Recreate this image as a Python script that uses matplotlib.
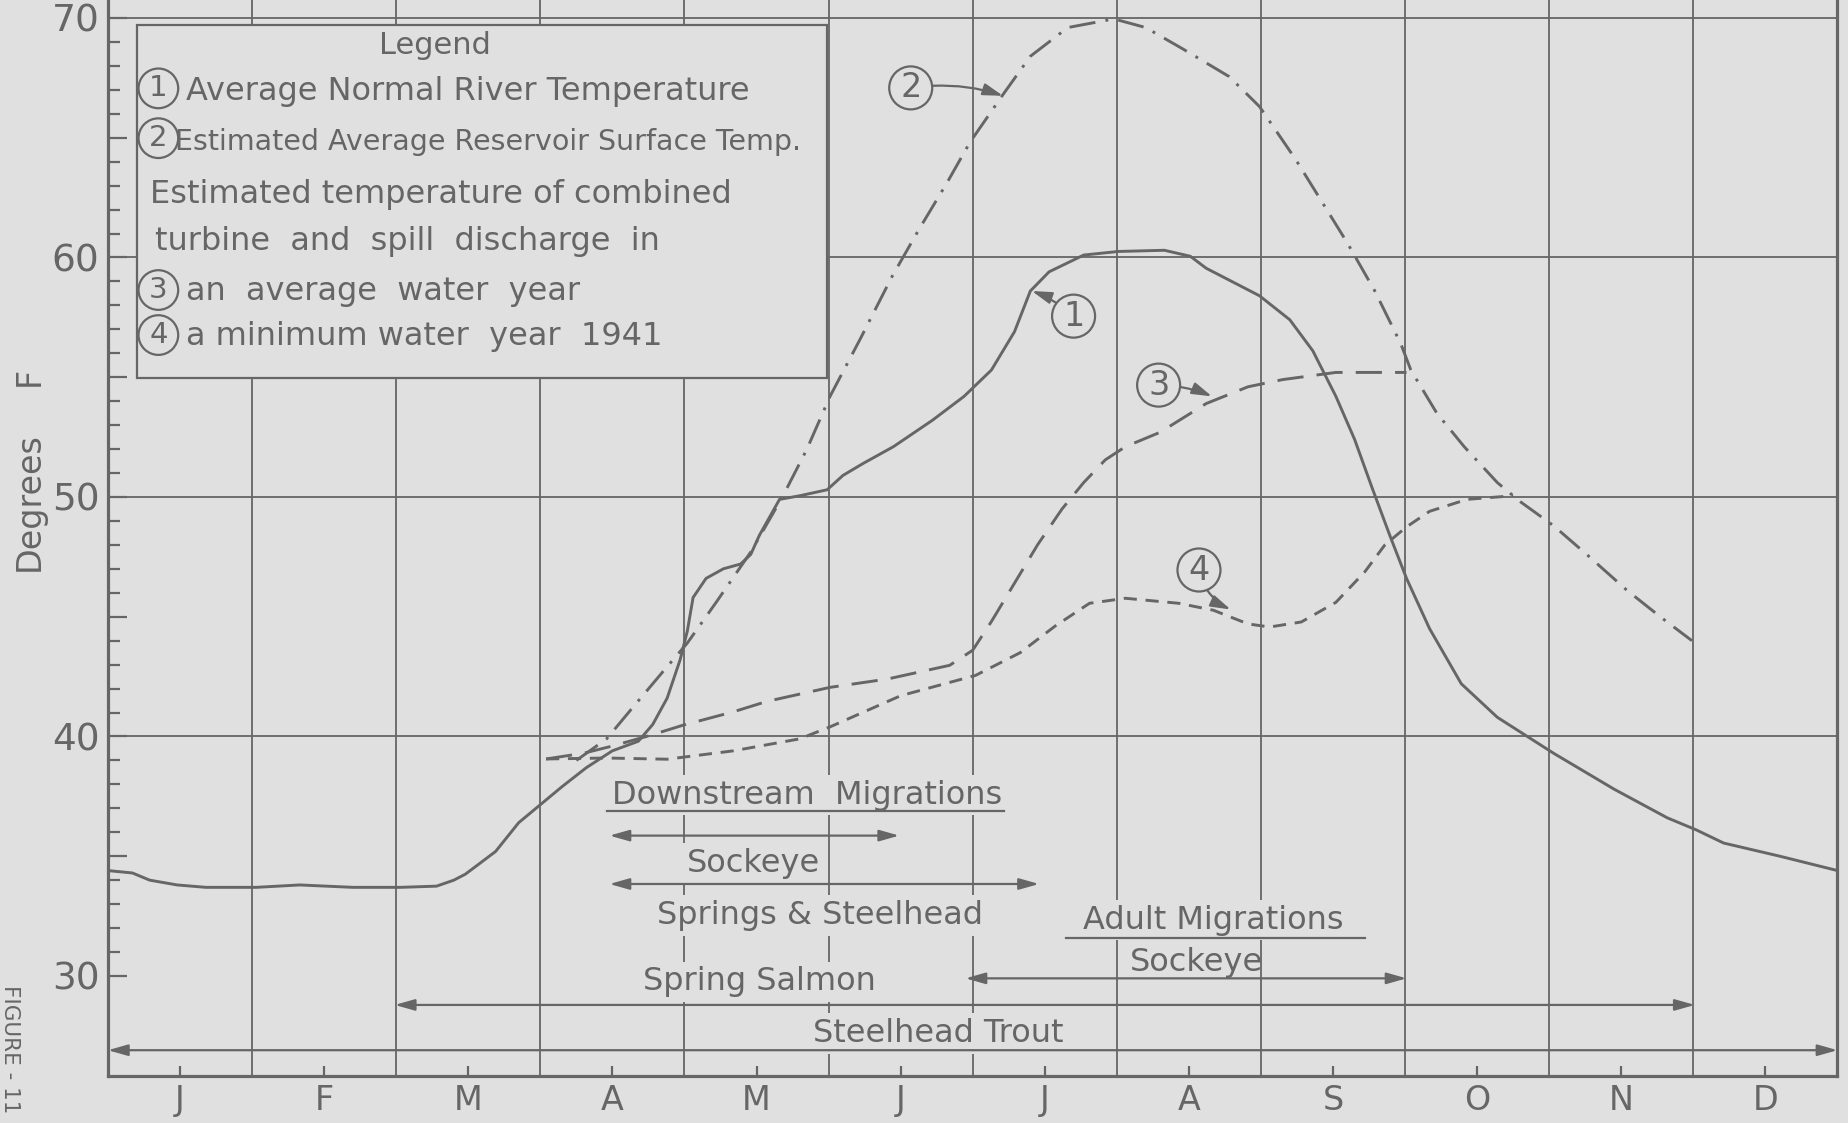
import numpy as np
import matplotlib.pyplot as plt
from matplotlib.patches import Rectangle

plt.rcParams['font.family'] = ['DejaVu Sans']

bg = '#e0e0e0'
ink = '#666666'

months = ['J', 'F', 'M', 'A', 'M', 'J', 'J', 'A', 'S', 'O', 'N', 'D']

# x is months from Jan 1, y is degrees F
# (1) average normal river temperature
river_x = [0.0, 0.17, 0.29, 0.48, 0.68, 1.03, 1.33, 1.70, 2.03, 2.28, 2.40, 2.48, 2.58, 2.69,
           2.85, 3.01, 3.15, 3.32, 3.50, 3.68, 3.78, 3.88, 3.97, 4.02, 4.06, 4.15, 4.27, 4.39,
           4.46, 4.52, 4.66, 4.80, 4.99, 5.10, 5.24, 5.45, 5.72, 5.94, 6.13, 6.29, 6.40, 6.53,
           6.77, 7.01, 7.33, 7.51, 7.62, 7.99, 8.20, 8.36, 8.52, 8.65, 8.77, 8.90, 9.01, 9.17,
           9.39, 9.64, 10.03, 10.45, 10.82, 11.02, 11.21, 11.60, 12.0]
river_y = [34.4, 34.3, 34.0, 33.8, 33.7, 33.7, 33.8, 33.7, 33.7, 33.75, 34.0, 34.25, 34.7, 35.2,
           36.4, 37.2, 37.9, 38.7, 39.4, 39.8, 40.5, 41.6, 43.2, 44.4, 45.8, 46.6, 47.0, 47.2,
           47.6, 48.4, 49.9, 50.05, 50.3, 50.9, 51.4, 52.1, 53.2, 54.2, 55.3, 56.9, 58.6, 59.4,
           60.1, 60.25, 60.3, 60.05, 59.55, 58.4, 57.4, 56.1, 54.2, 52.4, 50.4, 48.3, 46.6, 44.5,
           42.2, 40.8, 39.3, 37.8, 36.6, 36.1, 35.55, 35.0, 34.4]

# (2) estimated average reservoir surface temp
res_x = [3.25, 3.46, 3.64, 3.85, 4.02, 4.22, 4.46, 4.68, 4.85, 5.01, 5.22, 5.44, 5.63, 5.82,
         5.98, 6.21, 6.40, 6.66, 6.98, 7.20, 7.46, 7.78, 7.99, 8.24, 8.41, 8.60, 8.79, 8.97,
         9.04, 9.22, 9.41, 9.64, 9.80, 10.03, 10.26, 10.54, 10.77, 10.99]
res_y = [39.0, 39.9, 41.2, 42.7, 43.9, 45.6, 47.7, 50.0, 52.0, 54.2, 56.6, 59.2, 61.2, 63.1,
         64.8, 66.8, 68.4, 69.6, 69.96, 69.6, 68.7, 67.55, 66.3, 64.1, 62.45, 60.6, 58.6, 56.4,
         55.3, 53.5, 52.1, 50.6, 49.8, 48.8, 47.6, 46.1, 45.0, 44.0]

# (3) average water year
avg_x = [3.04, 3.30, 3.50, 3.76, 3.99, 4.34, 4.57, 5.01, 5.41, 5.84, 6.0, 6.13, 6.28, 6.45,
         6.62, 6.77, 6.92, 7.06, 7.30, 7.62, 7.91, 8.15, 8.52, 9.01]
avg_y = [39.06, 39.3, 39.6, 40.04, 40.47, 41.03, 41.46, 42.05, 42.4, 42.97, 43.6, 44.8, 46.3,
         48.0, 49.5, 50.6, 51.55, 52.1, 52.7, 53.9, 54.6, 54.9, 55.2, 55.2]

# (4) minimum water year 1941
min_x = [3.04, 3.46, 3.88, 4.34, 4.80, 5.01, 5.50, 6.02, 6.33, 6.57, 6.81, 7.06, 7.43, 7.67,
         7.91, 8.06, 8.28, 8.52, 8.72, 8.86, 9.01, 9.17, 9.43, 9.75]
min_y = [39.06, 39.1, 39.05, 39.4, 39.9, 40.4, 41.7, 42.55, 43.5, 44.6, 45.56, 45.77, 45.56,
         45.27, 44.7, 44.57, 44.78, 45.6, 46.87, 48.0, 48.75, 49.4, 49.9, 50.05]

# migration periods (months from Jan 1)
sockeye_down = [3.48, 5.49]
springs_down = [3.48, 6.46]
adult_sockeye = [5.95, 9.01]
steelhead_trout = [1.99, 11.01]
whole_year = [0.0, 12.0]

fig = plt.figure(figsize=(18.48, 11.23), dpi=100, facecolor=bg)
ax = fig.add_axes([0.0584, 0.0419, 0.9359, 0.9581])
ax.set_facecolor(bg)
ax.set_xlim(0, 12)
ax.set_ylim(25.825, 70.75)

for s in ['left', 'bottom', 'right']:
    ax.spines[s].set_color(ink)
    ax.spines[s].set_linewidth(2.3)
ax.spines['top'].set_visible(False)

# ticks
ax.set_yticks(range(30, 71, 5))
ax.set_yticklabels(['30', '', '40', '', '50', '', '60', '', '70'])
ax.set_yticks([v for v in range(31, 70) if v % 5], minor=True)
ax.tick_params(axis='y', which='major', direction='in', length=14, width=1.6,
               color=ink, labelcolor=ink, labelsize=27, pad=6)
ax.tick_params(axis='y', which='minor', direction='in', length=8.5, width=1.6, color=ink)
ax.set_xticks(np.arange(12) + 0.5)
ax.set_xticklabels(months)
ax.tick_params(axis='x', direction='in', length=7, width=1.6, color=ink,
               labelcolor=ink, labelsize=24, pad=6)

# grid
for k in range(1, 12):
    ax.axvline(k, color=ink, lw=1.3, zorder=1)
for v in [40, 50, 60, 70]:
    ax.axhline(v, color=ink, lw=1.3, zorder=1)

# curves
ax.plot(river_x, river_y, color=ink, lw=2.1, zorder=2)
ax.plot(res_x, res_y, color=ink, lw=2.1, dashes=(9, 3.5, 1, 3.5), zorder=2)
ax.plot(avg_x, avg_y, color=ink, lw=2.1, dashes=(9, 4.5), zorder=2)
ax.plot(min_x, min_y, color=ink, lw=2.1, dashes=(4.5, 3), zorder=2)

# legend box
ax.add_patch(Rectangle((0.2, 54.97), 4.79, 14.74, fc=bg, ec=ink, lw=1.6, zorder=3))
tk = dict(color=ink, zorder=4)
circ = dict(boxstyle='circle,pad=0.2', fc='none', ec=ink, lw=1.6)
ax.text(2.27, 68.48, 'Legend', ha='center', va='baseline', fontsize=22, **tk)
for num, yc in [('1', 67.06), ('2', 64.98), ('3', 58.64), ('4', 56.76)]:
    ax.text(0.35, yc, num, ha='center', va='center', fontsize=21, bbox=circ, **tk)
ax.text(0.545, 66.58, 'Average Normal River Temperature', va='baseline', fontsize=23, **tk)
ax.text(0.465, 64.49, 'Estimated Average Reservoir Surface Temp.', va='baseline',
        fontsize=20.5, **tk)
ax.text(0.29, 62.26, 'Estimated temperature of combined', va='baseline', fontsize=23, **tk)
ax.text(0.326, 60.31, 'turbine  and  spill  discharge  in', va='baseline', fontsize=23, **tk)
ax.text(0.545, 58.23, 'an  average  water  year', va='baseline', fontsize=23, **tk)
ax.text(0.545, 56.35, 'a minimum water  year  1941', va='baseline', fontsize=23, **tk)

# callouts on curves
pcirc = dict(boxstyle='circle,pad=0.15', fc=bg, ec=ink, lw=1.6)
callouts = [('1', (6.41, 58.6), (6.70, 57.55), 0.1),
            ('2', (6.21, 66.75), (5.57, 67.08), -0.12),
            ('3', (7.66, 54.2), (7.29, 54.67), -0.1),
            ('4', (7.79, 45.3), (7.57, 46.95), 0.25)]
for num, tip, pos, rad in callouts:
    ax.annotate(num, xy=tip, xytext=pos, ha='center', va='center', fontsize=24,
                color=ink, bbox=pcirc, zorder=4,
                arrowprops=dict(arrowstyle='-|>,head_length=0.6,head_width=0.18',
                                color=ink, lw=1.6, shrinkA=0, shrinkB=0,
                                mutation_scale=20,
                                connectionstyle='arc3,rad=%s' % rad))

# migration annotations
gap = dict(boxstyle='square,pad=0.15', fc=bg, ec='none')
bt = dict(ha='center', va='baseline', fontsize=23, color=ink, zorder=3)
ax.text(4.85, 37.2, 'Downstream  Migrations', bbox=gap, **bt)
ax.plot([3.46, 6.22], [36.9, 36.9], color=ink, lw=1.6, zorder=4)
ax.text(4.48, 34.34, 'Sockeye', bbox=gap, **bt)
ax.text(4.94, 32.16, 'Springs & Steelhead', bbox=gap, **bt)
ax.text(4.52, 29.4, 'Spring Salmon', bbox=gap, **bt)
ax.text(7.67, 31.98, 'Adult Migrations', bbox=gap, **bt)
ax.plot([6.65, 8.72], [31.59, 31.59], color=ink, lw=1.6, zorder=4)
ax.text(7.55, 30.2, 'Sockeye', **bt)
ax.text(5.76, 27.24, 'Steelhead Trout', bbox=gap, **bt)

arr = dict(arrowstyle='<|-|>,head_length=0.6,head_width=0.17', color=ink, lw=1.6,
           shrinkA=0, shrinkB=0, mutation_scale=20)
for span, yv in [(sockeye_down, 35.86), (springs_down, 33.84), (adult_sockeye, 29.9),
                 (steelhead_trout, 28.79), (whole_year, 26.9)]:
    ax.annotate('', xy=(span[1], yv), xytext=(span[0], yv), arrowprops=arr, zorder=4)

# axis label and figure number
fig.text(0.0157, 0.5534, 'Degrees', rotation=90, ha='center', va='center',
         fontsize=24, color=ink)
fig.text(0.0157, 0.6645, 'F', rotation=90, ha='center', va='center', fontsize=24, color=ink)
fig.text(0.0055, 1 - 985 / 1123, 'FIGURE - 11', rotation=-90, ha='center', va='top',
         fontsize=15.5, color=ink)

fig.savefig('out.png', dpi=100, facecolor=bg)
